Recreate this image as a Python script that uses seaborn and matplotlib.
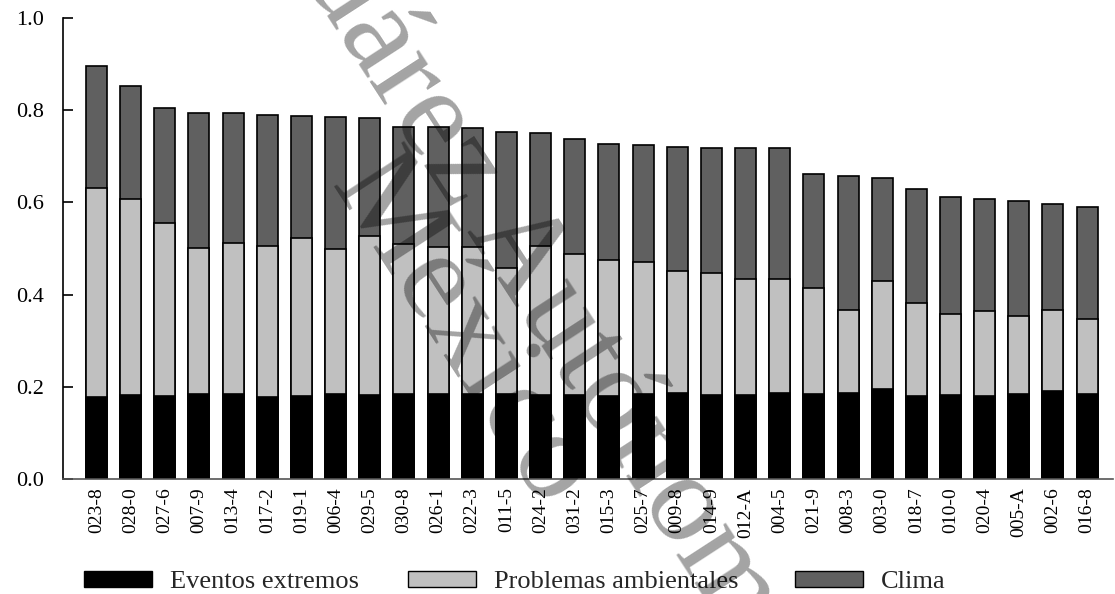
import numpy as np
import matplotlib
matplotlib.use("Agg")
import matplotlib.pyplot as plt
from matplotlib.patches import Patch
import seaborn as sns

# Municipality keys, ordered by total index
categories = ["023-8", "028-0", "027-6", "007-9", "013-4", "017-2", "019-1", "006-4",
              "029-5", "030-8", "026-1", "022-3", "011-5", "024-2", "031-2", "015-3",
              "025-7", "009-8", "014-9", "012-A", "004-5", "021-9", "008-3", "003-0",
              "018-7", "010-0", "020-4", "005-A", "002-6", "016-8"]

# Component contributions to the index
eventos_extremos = [0.177, 0.182, 0.179, 0.185, 0.184, 0.177, 0.179, 0.184, 0.182, 0.184,
                    0.184, 0.184, 0.184, 0.182, 0.182, 0.181, 0.184, 0.186, 0.182, 0.182,
                    0.186, 0.184, 0.187, 0.195, 0.180, 0.182, 0.180, 0.185, 0.190, 0.185]
problemas_ambientales = [0.454, 0.425, 0.377, 0.317, 0.328, 0.329, 0.344, 0.314, 0.345, 0.326,
                         0.319, 0.319, 0.274, 0.324, 0.306, 0.293, 0.287, 0.266, 0.264, 0.251,
                         0.247, 0.230, 0.180, 0.235, 0.201, 0.175, 0.185, 0.169, 0.177, 0.161]
clima = [0.265, 0.246, 0.249, 0.293, 0.281, 0.283, 0.264, 0.288, 0.256, 0.254,
         0.260, 0.258, 0.295, 0.244, 0.249, 0.253, 0.253, 0.269, 0.272, 0.285,
         0.285, 0.248, 0.291, 0.223, 0.248, 0.255, 0.243, 0.248, 0.229, 0.245]

series_names = ["Eventos extremos", "Problemas ambientales", "Clima"]
series_colors = ["#000000", "#c0c0c0", "#606060"]

sns.set_theme(style="ticks")
plt.rcParams["font.family"] = ["Liberation Serif", "DejaVu Serif"]

fig = plt.figure(figsize=(11.15, 5.94), dpi=100)
ax = fig.add_axes([0.0568, 0.1936, 0.9412, 0.7761])

e = np.array(eventos_extremos)
p = np.array(problemas_ambientales)
c = np.array(clima)
layers = [e + p + c, e + p, e]          # cumulative tops, drawn tallest first
layer_colors = [series_colors[2], series_colors[1], series_colors[0]]

for heights, col in zip(layers, layer_colors):
    sns.barplot(x=categories, y=heights, order=categories, color=col, saturation=1,
                edgecolor="black", linewidth=1.2, width=0.615, errorbar=None, ax=ax)

ax.set_ylim(0, 1.0)
ax.set_xlim(-0.97, 29.75)
ax.set_yticks([0.0, 0.2, 0.4, 0.6, 0.8, 1.0])
ax.set_yticklabels(["0.0", "0.2", "0.4", "0.6", "0.8", "1.0"])
ax.set_xlabel("")
ax.set_ylabel("")

for side in ["top", "right"]:
    ax.spines[side].set_visible(False)
ax.spines["left"].set_color("black")
ax.spines["left"].set_linewidth(1.2)
ax.spines["bottom"].set_color("#555555")
ax.spines["bottom"].set_linewidth(1.2)

ax.tick_params(axis="y", direction="in", length=7.5, width=1.2, color="black",
               labelsize=16, pad=14, labelcolor="black")
ax.tick_params(axis="x", length=0, pad=6, labelsize=14, rotation=90, labelcolor="black")

# Legend entries laid out in a single row beneath the axis
legend_x = [84 / 1115, 408 / 1115, 795 / 1115]
for name, col, x0 in zip(series_names, series_colors, legend_x):
    fig.legend(handles=[Patch(facecolor=col, edgecolor="black", linewidth=1.0, label=name)],
               loc="center left", bbox_to_anchor=(x0, 0.02), frameon=False,
               fontsize=19, handlelength=2.58, handleheight=0.53, handletextpad=0.68,
               borderpad=0, borderaxespad=0)

# Diagonal watermark over the plot
wm_style = dict(fontsize=92, color="black", alpha=0.36, rotation=-57,
                rotation_mode="anchor", ha="center", va="center", zorder=20,
                family="Liberation Serif")
fig.text(543 / 1115, 1 - 293 / 594, "Juárez Autónoma", **wm_style)
fig.text(461 / 1115, 1 - 332 / 594, "México", **wm_style)

fig.savefig("out.png", dpi=100, facecolor="white")
